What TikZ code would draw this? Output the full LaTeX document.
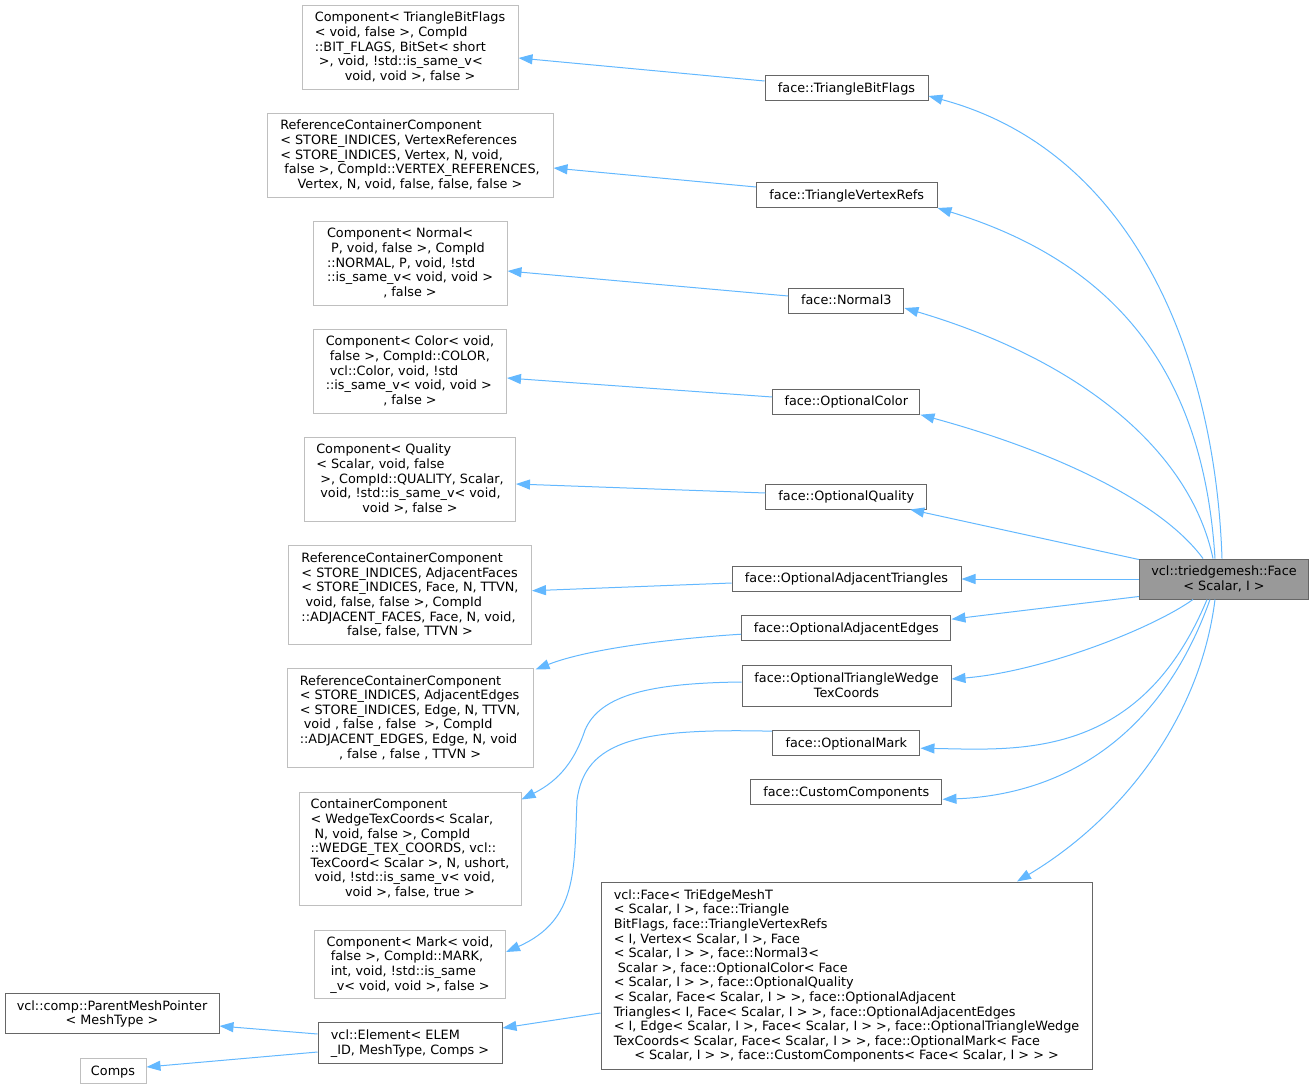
\documentclass[tikz,border=0pt]{standalone}
\usepackage{fontspec}
\setmainfont{DejaVu Sans}
\usetikzlibrary{arrows.meta,calc}
\definecolor{edgeblue}{HTML}{63B8FF}
\definecolor{greyforty}{HTML}{666666}
\definecolor{greyseventyfive}{HTML}{BFBFBF}
\definecolor{greysixty}{HTML}{999999}
\newcommand\dlines[1]{\raisebox{-0.9pt}[\height][\depth]{\begin{tabular}{@{}l@{}}#1\end{tabular}}}
\newcommand\dlast[1]{\multicolumn{1}{@{}c@{}}{#1}}
\tikzset{
  cls/.style={draw=greyforty, line width=0.75pt, fill=white, inner sep=0pt, text=black,
    font=\fontsize{9.6}{10.95}\selectfont},
  undoc/.style={cls, draw=greyseventyfive},
  sz/.style 2 args={minimum width=#1*0.75pt, minimum height=#2*0.75pt},
  edge/.style={draw=edgeblue, line width=0.75pt, -{Triangle[length=10.5pt,width=7.5pt]}},
}
\begin{document}
\begin{tikzpicture}[x=0.75pt,y=-0.75pt]
\useasboundingbox (0,0) rectangle (1313,1089);

% left column
\node[undoc, sz={216}{84}] (CTB) at (410,47) {\dlines{Component< TriangleBitFlags\\< void, false >, CompId\\::BIT\_FLAGS, BitSet< short\\\ >, void, !std::is\_same\_v<\\\dlast{void, void >, false >}}};
\node[undoc, sz={286}{84}] (RVR) at (410,155) {\dlines{ReferenceContainerComponent\\< STORE\_INDICES, VertexReferences\\< STORE\_INDICES, Vertex, N, void,\\\ false >, CompId::VERTEX\_REFERENCES,\\\dlast{Vertex, N, void, false, false, false >}}};
\node[undoc, sz={194}{84}] (CN) at (410,263) {\dlines{Component< Normal<\\\ P, void, false >, CompId\\::NORMAL, P, void, !std\\::is\_same\_v< void, void >\\\dlast{, false >}}};
\node[undoc, sz={193}{84}] (CC) at (410,371) {\dlines{Component< Color< void,\\\ false >, CompId::COLOR,\\\ vcl::Color, void, !std\\::is\_same\_v< void, void >\\\dlast{, false >}}};
\node[undoc, sz={211}{84}] (CQ) at (410,479) {\dlines{Component< Quality\\< Scalar, void, false\\\ >, CompId::QUALITY, Scalar,\\\ void, !std::is\_same\_v< void,\\\dlast{void >, false >}}};
\node[undoc, sz={243}{98.5}] (RAF) at (410,595) {\dlines{ReferenceContainerComponent\\< STORE\_INDICES, AdjacentFaces\\< STORE\_INDICES, Face, N, TTVN,\\\ void, false, false >, CompId\\::ADJACENT\_FACES, Face, N, void,\\\dlast{false, false, TTVN >}}};
\node[undoc, sz={246}{99}] (RAE) at (410,717.5) {\dlines{ReferenceContainerComponent\\< STORE\_INDICES, AdjacentEdges\\< STORE\_INDICES, Edge, N, TTVN,\\\ void , false , false \ >, CompId\\::ADJACENT\_EDGES, Edge, N, void\\\dlast{, false , false , TTVN >}}};
\node[undoc, sz={222}{113}] (CCW) at (410,848.5) {\dlines{ContainerComponent\\< WedgeTexCoords< Scalar,\\\ N, void, false >, CompId\\::WEDGE\_TEX\_COORDS, vcl::\\TexCoord< Scalar >, N, ushort,\\\ void, !std::is\_same\_v< void,\\\dlast{void >, false, true >}}};
\node[undoc, sz={191}{68}] (CM) at (410,964) {\dlines{Component< Mark< void,\\\ false >, CompId::MARK,\\\ int, void, !std::is\_same\\\dlast{\_v< void, void >, false >}}};
\node[cls, sz={214}{40}] (PMP) at (112,1013.5) {\dlines{vcl::comp::ParentMeshPointer\\\dlast{< MeshType >}}};
\node[undoc, sz={66}{25}] (Comps) at (113,1071) {\dlines{Comps}};
\node[cls, sz={184}{41}] (EL) at (410,1043) {\dlines{vcl::Element< ELEM\\\dlast{\_ID, MeshType, Comps >}}};

% middle column
\node[cls, sz={163}{25}] (TBF) at (846.5,88) {\dlines{face::TriangleBitFlags}};
\node[cls, sz={180.5}{25}] (TVR) at (846.75,195) {\dlines{face::TriangleVertexRefs}};
\node[cls, sz={115.3}{25}] (N3) at (846.3,300.5) {\dlines{face::Normal3}};
\node[cls, sz={147.3}{25}] (OC) at (846.3,401.7) {\dlines{face::OptionalColor}};
\node[cls, sz={160.7}{25}] (OQ) at (846.3,496.5) {\dlines{face::OptionalQuality}};
\node[cls, sz={229}{25}] (OAT) at (846.5,578.7) {\dlines{face::OptionalAdjacentTriangles}};
\node[cls, sz={209.3}{25}] (OAE) at (846.3,628.2) {\dlines{face::OptionalAdjacentEdges}};
\node[cls, sz={209}{40.3}] (OTW) at (846.5,686) {\dlines{face::OptionalTriangleWedge\\\dlast{TexCoords}}};
\node[cls, sz={147.3}{25}] (OM) at (846.3,743.2) {\dlines{face::OptionalMark}};
\node[cls, sz={191.3}{25}] (CCo) at (846.3,792.3) {\dlines{face::CustomComponents}};
\node[cls, sz={491}{187}] (VF) at (846.5,975.5) {\dlines{vcl::Face< TriEdgeMeshT\\< Scalar, I >, face::Triangle\\BitFlags, face::TriangleVertexRefs\\< I, Vertex< Scalar, I >, Face\\< Scalar, I > >, face::Normal3<\\\ Scalar >, face::OptionalColor< Face\\< Scalar, I > >, face::OptionalQuality\\< Scalar, Face< Scalar, I > >, face::OptionalAdjacent\\Triangles< I, Face< Scalar, I > >, face::OptionalAdjacentEdges\\< I, Edge< Scalar, I >, Face< Scalar, I > >, face::OptionalTriangleWedge\\TexCoords< Scalar, Face< Scalar, I > >, face::OptionalMark< Face\\\dlast{< Scalar, I > >, face::CustomComponents< Face< Scalar, I > > >}}};

% right
\node[cls, fill=greysixty, sz={169.4}{40}] (F) at (1224,579) {\dlines{vcl::triedgemesh::Face\\\dlast{< Scalar, I >}}};

% edges from Face
\draw[edge] ($(F.north)+(-2,0)$) .. controls (1215,350) and (1130,150) .. ($(TBF.east)+(0,8)$);
\draw[edge] ($(F.north)+(-9,0)$) .. controls (1205,400) and (1140,270) .. (TVR.south east);
\draw[edge] ($(F.north)+(-11,0)$) .. controls (1190,450) and (1080,360) .. ($(N3.east)+(0,7.5)$);
\draw[edge] ($(F.north)+(-21,0)$) .. controls (1160,500) and (1050,450) .. (OC.south east);
\draw[edge] ($(F.north west)+(0,1)$) -- ($(OQ.south east)+(-17,0)$);
\draw[edge] (F.west) -- (F.west -| OAT.east);
\draw[edge] ($(F.south west)+(0,-3)$) -- ($(OAE.east)+(0,-9)$);
\draw[edge] ($(F.south)+(-31,0)$) .. controls (1150,630) and (1040,672) .. ($(OTW.east)+(0,-7)$);
\draw[edge] ($(F.south)+(-17,0)$) .. controls (1140,760) and (1020,750) .. ($(OM.east)+(0,5)$);
\draw[edge] ($(F.south)+(-14,0)$) .. controls (1160,740) and (1060,795) .. ($(CCo.east)+(0,7)$);
\draw[edge] ($(F.south)+(-9,0)$) .. controls (1200,720) and (1120,820) .. ($(VF.north)+(170.5,0)$);

% middle to left
\draw[edge] ($(TBF.west)+(0,-7)$) -- ($(CTB.east)+(0,11)$);
\draw[edge] ($(TVR.west)+(0,-8)$) -- ($(RVR.east)+(0,13)$);
\draw[edge] ($(N3.west)+(0,-4.5)$) -- ($(CN.east)+(0,8)$);
\draw[edge] ($(OC.west)+(0,-4.7)$) -- ($(CC.east)+(0,7)$);
\draw[edge] ($(OQ.west)+(0,-3.5)$) -- ($(CQ.east)+(0,5)$);
\draw[edge] ($(OAT.west)+(0,4.3)$) -- ($(RAF.east)+(0,-4.3)$);
\draw[edge] ($(OAE.west)+(0,6)$) .. controls (680,638) and (590,648) .. ($(RAE.north east)+(2,2)$);
\draw[edge] ($(OTW.west)+(0,-4)$) .. controls (650,683) and (600,695) .. (585,730) .. controls (575,760) and (560,780) .. ($(CCW.north east)+(0,8)$);
\draw[edge] ($(OM.north west)+(0,1)$) .. controls (640,728) and (585,740) .. (577,800) .. controls (574,870) and (578,920) .. ($(CM.east)+(0,-12)$);
\draw[edge] ($(VF.west)+(0,37.5)$) -- ($(EL.east)+(0,-15)$);
\draw[edge] ($(EL.west)+(0,-9)$) -- ($(PMP.east)+(0,12.5)$);
\draw[edge] ($(EL.west)+(0,9)$) -- ($(Comps.east)+(0,-4)$);
\end{tikzpicture}
\end{document}
